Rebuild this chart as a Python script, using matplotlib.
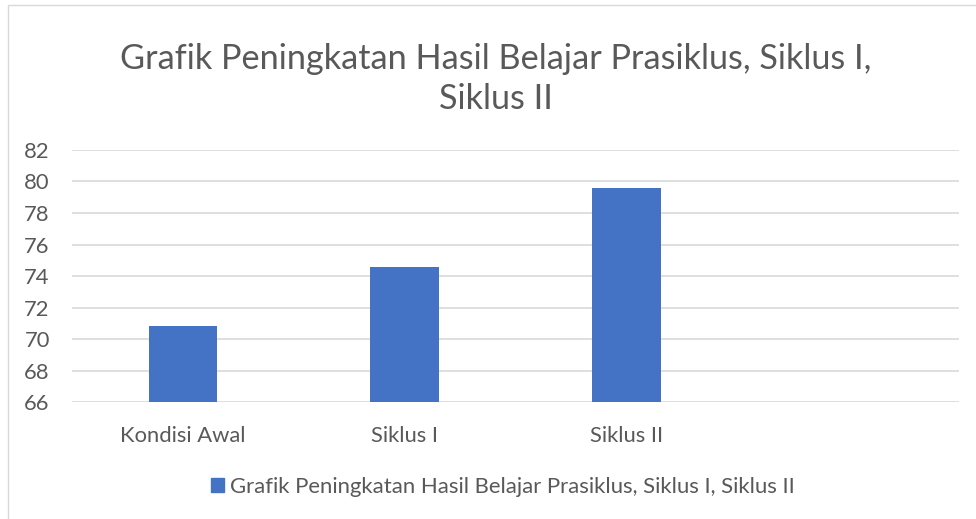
import matplotlib.pyplot as plt
from matplotlib.patches import Rectangle

plt.rcParams['font.family'] = ['Lato', 'DejaVu Sans']

categories = ['Kondisi Awal', 'Siklus I', 'Siklus II', '']
values = [70.8, 74.6, 79.6, None]
series_name = 'Grafik Peningkatan Hasil Belajar Prasiklus, Siklus I, Siklus II'
title = 'Grafik Peningkatan Hasil Belajar Prasiklus, Siklus I,\nSiklus II'
y_ticks = [66, 68, 70, 72, 74, 76, 78, 80, 82]

text_color = '#595959'
bar_color = '#4472C4'
grid_color = '#D9D9D9'

fig = plt.figure(figsize=(9.76, 5.19), dpi=100)
ax = fig.add_axes([0.0738, 0.2254, 0.9088, 0.4856])

x = list(range(len(categories)))
bar_x = [i for i, v in zip(x, values) if v is not None]
bar_h = [v - 66 for v in values if v is not None]
ax.bar(bar_x, bar_h, bottom=66, width=0.31, color=bar_color, zorder=3)

ax.set_xlim(-0.5, len(categories) - 0.5)
ax.set_ylim(66, 82)
ax.set_yticks(y_ticks)
ax.set_xticks(x)
ax.set_xticklabels(categories)
ax.tick_params(axis='both', length=0, labelsize=15.8, colors=text_color)
ax.tick_params(axis='x', pad=17)
ax.tick_params(axis='y', pad=16)
ax.grid(axis='y', color=grid_color, linewidth=1.2, zorder=0)
for s in ax.spines.values():
    s.set_visible(False)

fig.text(0.508, 0.848, title, ha='center', va='center', fontsize=24.7,
         color=text_color, linespacing=1.28)

# legend
leg = ax.legend([Rectangle((0, 0), 1, 1, color=bar_color)], [series_name],
                loc='center', bbox_to_anchor=(0.515, 0.062), bbox_transform=fig.transFigure,
                frameon=False, fontsize=15.9, handlelength=0.6, handleheight=0.6,
                handletextpad=0.25, labelcolor=text_color)

# chart border
fig.patches.append(Rectangle((0.008, -0.02), 1.05, 1.01, transform=fig.transFigure,
                             fill=False, edgecolor='#D9D9D9', linewidth=1))

fig.savefig('out.png', dpi=100)
